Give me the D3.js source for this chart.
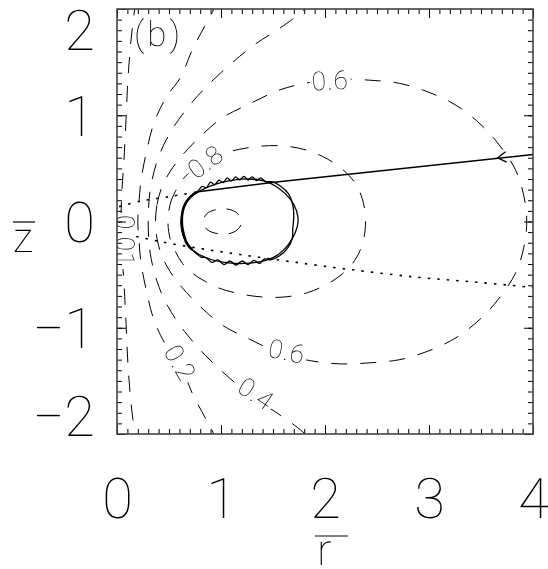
<!DOCTYPE html>
<html><head><meta charset="utf-8">
<script src="https://cdn.jsdelivr.net/npm/d3@7"></script>
<style>
html,body{margin:0;padding:0;background:#fff;}
svg{display:block;will-change:transform;}
text{font-family:Roboto,"DejaVu Sans",sans-serif;font-weight:100;fill:#000;text-rendering:geometricPrecision;-webkit-font-smoothing:antialiased;}
</style></head><body>
<svg id="chart" width="548" height="569"></svg>
<script>
// ---- axes ----
const xMajor = [0, 1, 2, 3, 4];
const yMajor = [-2, -1, 0, 1, 2];
const xTickLabels = ["0", "1", "2", "3", "4"];
const yTickLabels = ["\u22122", "\u22121", "0", "1", "2"];
const minorStep = 0.1;
const xTitle = "r";
const yTitle = "z";
const panelTag = "(b)";

// ---- flux contours, [r, z] ----
const contour001 = [[0.18,2.09],[0.17,2.0],[0.135,1.71],[0.105,1.34],[0.087,0.96],[0.067,0.58],[0.048,0.30],[0.038,0],
  [0.048,-0.30],[0.067,-0.58],[0.087,-0.96],[0.105,-1.34],[0.135,-1.71],[0.17,-2.0],[0.18,-2.09]];
const contour02 = [[0.95,2.09],[0.93,2.0],[0.85,1.85],[0.73,1.63],[0.61,1.355],[0.48,1.18],[0.36,0.94],[0.28,0.64],[0.23,0.38],[0.21,0.16],[0.20,0],
  [0.21,-0.16],[0.23,-0.38],[0.28,-0.64],[0.36,-0.94],[0.48,-1.18],[0.61,-1.355],[0.73,-1.63],[0.85,-1.85],[0.93,-2.0],[0.95,-2.09]];
const contour04 = [[1.90,2.09],[1.81,2.0],[1.71,1.92],[1.52,1.79],[1.33,1.67],[1.09,1.48],[0.85,1.26],[0.65,1.035],[0.49,0.80],[0.385,0.565],[0.32,0.30],[0.30,0],
  [0.32,-0.30],[0.385,-0.565],[0.49,-0.80],[0.65,-1.035],[0.85,-1.26],[1.09,-1.48],[1.33,-1.67],[1.52,-1.79],[1.71,-1.92],[1.81,-2.0],[1.90,-2.09]];
const contour06 = [[0.37,0],[0.385,0.16],[0.43,0.32],[0.51,0.47],[0.625,0.62],[0.80,0.80],[1.02,0.98],[1.28,1.11],[1.57,1.24],[1.86,1.31],[2.14,1.34],[2.43,1.33],[2.72,1.30],[2.99,1.22],[3.25,1.10],[3.49,0.92],[3.66,0.74],[3.83,0.49],[3.91,0.25],[3.94,0],
  [3.91,-0.25],[3.83,-0.49],[3.66,-0.74],[3.49,-0.92],[3.25,-1.10],[2.99,-1.22],[2.72,-1.30],[2.43,-1.33],[2.14,-1.34],[1.86,-1.31],[1.57,-1.24],[1.28,-1.11],[1.02,-0.98],[0.80,-0.80],[0.625,-0.62],[0.51,-0.47],[0.43,-0.32],[0.385,-0.16]];
const contour08 = [[0.49,0],[0.51,0.16],[0.56,0.28],[0.63,0.395],[0.73,0.49],[0.85,0.565],[0.99,0.63],[1.18,0.68],[1.39,0.71],[1.615,0.71],[1.83,0.67],[2.02,0.59],[2.17,0.49],[2.29,0.36],[2.36,0.21],[2.39,0],
  [2.36,-0.21],[2.29,-0.36],[2.17,-0.49],[2.02,-0.59],[1.83,-0.67],[1.615,-0.71],[1.39,-0.71],[1.18,-0.68],[0.99,-0.63],[0.85,-0.565],[0.73,-0.49],[0.63,-0.395],[0.56,-0.28],[0.51,-0.16]];
const contourCore = [[1.20,0],[1.16,-0.075],[1.075,-0.115],[0.97,-0.115],[0.865,-0.075],[0.83,0],[0.865,0.075],[0.97,0.115],[1.075,0.115],[1.16,0.075]];

// contour labels: text, position [r, z], rotation in degrees
const contourLabels = [
  {text: "0.6",  at: [2.05, 1.33],   rot: -3},
  {text: "0.6",  at: [1.635, -1.22], rot: 12},
  {text: "0.8",  at: [0.85, 0.565],  rot: -36},
  {text: "0.2",  at: [0.61, -1.33],  rot: 60},
  {text: "0.4",  at: [1.34, -1.62],  rot: 34},
  {text: "0.01", at: [0.077, -0.184], rot: 90}
];

// ---- particle orbit, [r, z] ----
const inflowLine = [[4.0,0.63],[1.51,0.37],[0.78,0.28]];
const arrowAt = [3.66, 0.60];
const orbitSmooth = [[0.78,0.28],[0.70,0.22],[0.64,0.12],[0.615,0.0],[0.635,-0.13],[0.69,-0.235],[0.79,-0.31],[0.91,-0.36],[1.07,-0.39],[1.23,-0.395],[1.39,-0.375],[1.52,-0.33],[1.61,-0.26],[1.68,-0.17],[1.73,-0.06],[1.74,0.04],[1.70,0.16],[1.62,0.26],[1.53,0.33],[1.42,0.38],[1.28,0.40],[1.115,0.39],[0.94,0.35],[0.78,0.28]];
const orbitGyro = [[0.779,0.282],[0.82,0.33],[0.86,0.32],[0.90,0.37],[0.94,0.345],[0.98,0.39],[1.02,0.365],[1.06,0.41],[1.10,0.38],[1.14,0.42],[1.18,0.39],[1.22,0.425],[1.26,0.39],[1.30,0.42],[1.34,0.385],[1.38,0.41],[1.43,0.375],[1.49,0.375],
  [1.57,0.335],[1.65,0.26],[1.69,0.16],[1.70,0.05],[1.69,-0.07],[1.685,-0.16],[1.64,-0.25],[1.56,-0.325],
  [1.48,-0.36],[1.42,-0.352],[1.37,-0.395],[1.317,-0.365],[1.26,-0.405],[1.202,-0.372],[1.144,-0.41],[1.087,-0.372],[1.029,-0.405],[0.971,-0.362],[0.913,-0.385],[0.856,-0.34],[0.808,-0.335],[0.76,-0.298],[0.721,-0.264]];
const orbitInner = [[0.721,-0.264],[0.673,-0.207],[0.644,-0.132],[0.625,-0.038],[0.625,0.056],[0.644,0.141],[0.683,0.207],[0.731,0.254],[0.779,0.282]];

// ---- dotted lines, [r, z] ----
const dottedUpper = [[0.02,0.14],[0.22,0.19],[0.51,0.235],[0.78,0.28]];
const dottedLower = [[0.02,-0.066],[0.125,-0.122],[0.413,-0.188],[0.798,-0.254],[1.183,-0.311],[1.663,-0.377],[2.24,-0.452],[2.913,-0.527],[3.49,-0.574],[4.0,-0.621]];

// ================= drawing =================
const svg = d3.select("#chart");
svg.append("rect").attr("width", 548).attr("height", 569).attr("fill", "#fff");

const x = d3.scaleLinear().domain([0, 4]).range([117, 533]);
const y = d3.scaleLinear().domain([-2, 2]).range([434, 9]);

svg.append("defs").append("clipPath").attr("id", "plotClip")
  .append("rect").attr("x", x(0)).attr("y", y(2)).attr("width", x(4) - x(0)).attr("height", y(-2) - y(2));

const plot = svg.append("g").attr("clip-path", "url(#plotClip)");

const smooth = d3.line().x(d => x(d[0])).y(d => y(d[1])).curve(d3.curveCatmullRom.alpha(0.5));
const smoothClosed = d3.line().x(d => x(d[0])).y(d => y(d[1])).curve(d3.curveCatmullRomClosed.alpha(0.5));

const dash = "16,13";
[contour001, contour02, contour04].forEach(c => {
  plot.append("path").attr("d", smooth(c)).attr("fill", "none")
    .attr("stroke", "#000").attr("stroke-width", 1).attr("stroke-dasharray", dash);
});
[contour06, contour08].forEach(c => {
  plot.append("path").attr("d", smoothClosed(c)).attr("fill", "none")
    .attr("stroke", "#000").attr("stroke-width", 1).attr("stroke-dasharray", dash);
});
plot.append("path").attr("d", smoothClosed(contourCore)).attr("fill", "none")
  .attr("stroke", "#000").attr("stroke-width", 1).attr("stroke-dasharray", "14,11").attr("stroke-dashoffset", 4);

// dotted lines
[dottedUpper, dottedLower].forEach(c => {
  plot.append("path").attr("d", smooth(c)).attr("fill", "none")
    .attr("stroke", "#000").attr("stroke-width", 1.6).attr("stroke-dasharray", "2.5,7");
});

// contour labels on a white patch that breaks the dashed line
contourLabels.forEach(l => {
  const g = plot.append("g")
    .attr("transform", `translate(${x(l.at[0])},${y(l.at[1])}) rotate(${l.rot})`);
  const t = g.append("text")
    .attr("text-anchor", "middle").attr("dy", "0.36em")
    .style("font-size", "26px").style("letter-spacing", "1px")
    .text(l.text);
  const b = t.node().getBBox();
  g.insert("rect", "text")
    .attr("x", b.x - 2).attr("y", b.y + 4).attr("width", b.width + 4).attr("height", b.height - 6)
    .attr("fill", "#fff");
});

// orbit
const line = d3.line().x(d => x(d[0])).y(d => y(d[1]));
plot.append("path").attr("d", line(inflowLine)).attr("fill", "none").attr("stroke", "#000").attr("stroke-width", 1.6);
plot.append("path").attr("d", smooth(orbitSmooth)).attr("fill", "none").attr("stroke", "#000").attr("stroke-width", 1.3);
plot.append("path").attr("d", smooth(orbitGyro)).attr("fill", "none").attr("stroke", "#000").attr("stroke-width", 1.3);
plot.append("path").attr("d", smooth(orbitInner)).attr("fill", "none").attr("stroke", "#000").attr("stroke-width", 2.6);

// arrowhead pointing along the inflow direction
{
  const tx = x(arrowAt[0]), ty = y(arrowAt[1]);
  const a = Math.atan2(y(inflowLine[0][1]) - y(inflowLine[1][1]), x(inflowLine[0][0]) - x(inflowLine[1][0]));
  const L = 10, s = 0.55;
  const p1 = [tx + L * Math.cos(a + s), ty + L * Math.sin(a + s)];
  const p2 = [tx + L * Math.cos(a - s), ty + L * Math.sin(a - s)];
  plot.append("path").attr("d", `M${p1[0]},${p1[1]}L${tx},${ty}L${p2[0]},${p2[1]}`)
    .attr("fill", "none").attr("stroke", "#000").attr("stroke-width", 1.3);
}

// ---- ticks (inward on all four sides) ----
const xMinor = d3.range(0, 4 + 1e-9, minorStep);
const yMinor = d3.range(-2, 2 + 1e-9, minorStep);
const axesG = svg.append("g");

function styleAxis(g) {
  g.select(".domain").remove();
  g.selectAll(".tick line").attr("stroke", "#000").attr("stroke-width", 1);
}

axesG.append("g").attr("transform", `translate(0,${y(-2)})`)
  .call(d3.axisBottom(x).tickValues(xMinor).tickSize(-5).tickFormat("")).call(styleAxis);
axesG.append("g").attr("transform", `translate(0,${y(2)})`)
  .call(d3.axisTop(x).tickValues(xMinor).tickSize(-5).tickFormat("")).call(styleAxis);
axesG.append("g").attr("transform", `translate(${x(0)},0)`)
  .call(d3.axisLeft(y).tickValues(yMinor).tickSize(-5).tickFormat("")).call(styleAxis);
axesG.append("g").attr("transform", `translate(${x(4)},0)`)
  .call(d3.axisRight(y).tickValues(yMinor).tickSize(-5).tickFormat("")).call(styleAxis);

axesG.append("g").attr("transform", `translate(0,${y(-2)})`)
  .call(d3.axisBottom(x).tickValues(xMajor).tickSize(-9).tickPadding(44)
    .tickFormat(d => xTickLabels[xMajor.indexOf(d)])).call(styleAxis);
axesG.append("g").attr("transform", `translate(0,${y(2)})`)
  .call(d3.axisTop(x).tickValues(xMajor).tickSize(-9).tickFormat("")).call(styleAxis);
const yAxisG = axesG.append("g").attr("transform", `translate(${x(0)},0)`)
  .call(d3.axisLeft(y).tickValues(yMajor).tickSize(-9).tickPadding(22)
    .tickFormat(d => yTickLabels[yMajor.indexOf(d)])).call(styleAxis);
axesG.append("g").attr("transform", `translate(${x(4)},0)`)
  .call(d3.axisRight(y).tickValues(yMajor).tickSize(-9).tickFormat("")).call(styleAxis);

axesG.selectAll("text").attr("fill", "#000").style("font-family", 'Roboto,"DejaVu Sans",sans-serif')
  .style("font-weight", 100).style("font-size", "56px");
yAxisG.selectAll(".tick text").attr("dy", "0.36em")
  .attr("transform", d => d === 2 ? "translate(0,20)" : d === -2 ? "translate(0,-19)" : null);

// frame
svg.append("rect").attr("x", x(0)).attr("y", y(2)).attr("width", x(4) - x(0)).attr("height", y(-2) - y(2))
  .attr("fill", "none").attr("stroke", "#444").attr("stroke-width", 1.6);

// axis titles with overbars
svg.append("line").attr("x1", 315).attr("x2", 348).attr("y1", 536).attr("y2", 536).attr("stroke", "#000").attr("stroke-width", 1.2);
svg.append("text").attr("x", 317).attr("y", 565).style("font-size", "44px").text(xTitle);
svg.append("line").attr("x1", 13).attr("x2", 35).attr("y1", 222).attr("y2", 222).attr("stroke", "#000").attr("stroke-width", 1.2);
svg.append("text").attr("x", 13).attr("y", 252).style("font-size", "42px").text(yTitle);

// panel tag
svg.append("text").attr("x", 134).attr("y", 46).style("font-size", "35px").style("letter-spacing", "3px").text(panelTag);
</script>
</body></html>
